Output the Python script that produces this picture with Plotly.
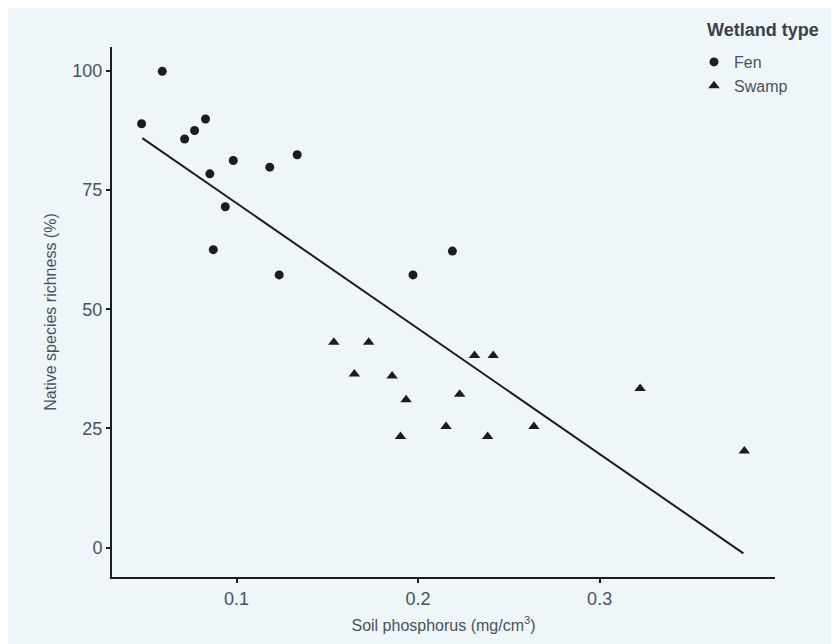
import plotly.graph_objects as go

# Fen sites
fen_x = [0.0477, 0.0591, 0.0714, 0.0769, 0.0829, 0.0853, 0.0982, 0.0938, 0.0872, 0.1183, 0.1334, 0.1235, 0.1972, 0.2189]
fen_y = [88.9, 99.9, 85.7, 87.5, 89.9, 78.4, 81.2, 71.5, 62.5, 79.8, 82.4, 57.2, 57.2, 62.2]

# Swamp sites
swamp_x = [0.1536, 0.1728, 0.1649, 0.1857, 0.1934, 0.1903, 0.2154, 0.2229, 0.2311, 0.2414, 0.2383, 0.2638, 0.3223, 0.3797]
swamp_y = [43.1, 43.1, 36.4, 36.0, 31.0, 23.3, 25.4, 32.2, 40.3, 40.3, 23.3, 25.4, 33.4, 20.3]

# Fitted trend line (endpoints)
fit_x = [0.0481, 0.3792]
fit_y = [85.9, -1.2]

x_ticks = [0.1, 0.2, 0.3]
x_labels = ["0.1", "0.2", "0.3"]
y_ticks = [0, 25, 50, 75, 100]

INK = "#1c1c1c"
TXT = "#4a525b"
TITLE = "#3a4048"
FONT = "Liberation Sans, Arial, sans-serif"

fig = go.Figure()
fig.add_trace(go.Scatter(x=fit_x, y=fit_y, mode="lines", line=dict(color=INK, width=2),
                         showlegend=False, hoverinfo="skip"))
fig.add_trace(go.Scatter(x=fen_x, y=fen_y, mode="markers", name="Fen",
                         marker=dict(symbol="circle", size=9, color=INK, line=dict(width=0))))
fig.add_trace(go.Scatter(x=swamp_x, y=swamp_y, mode="markers", name="Swamp",
                         marker=dict(symbol="triangle-up", size=10, color=INK, line=dict(width=0))))

W, H = 826, 640
L, T = 104, 39
PR, PB = 767, 569          # plot right / bottom in figure pixels
R, B = W - PR, H - PB
pw, ph = PR - L, PB - T

def px(x):
    return (x - L) / pw

def py(y):
    return (PB - y) / ph

fig.add_annotation(text="<b>Wetland type</b>", xref="paper", yref="paper",
                   x=px(697), y=py(22), xanchor="left", yanchor="middle",
                   showarrow=False, font=dict(size=18, color=TITLE))

fig.update_layout(
    width=W, height=H,
    margin=dict(l=L, r=R, t=T, b=B),
    paper_bgcolor="#EFF6FA",
    plot_bgcolor="rgba(0,0,0,0)",
    font=dict(family=FONT, color=TXT),
    legend=dict(
        font=dict(size=16, color=TXT),
        x=px(686), y=py(37), xanchor="left", yanchor="top",
        bgcolor="rgba(0,0,0,0)", itemwidth=30, tracegroupgap=0,
    ),
    xaxis=dict(
        range=[0.0314, 0.3966], tickvals=x_ticks, ticktext=x_labels,
        showgrid=False, zeroline=False, showline=True, linecolor=INK, linewidth=2,
        ticks="outside", ticklen=4, tickwidth=2, tickcolor=INK,
        tickfont=dict(size=18, color=TXT),
        title=dict(text="Soil phosphorus (mg/cm<sup>3</sup>)", font=dict(size=16, color=TXT), standoff=12),
    ),
    yaxis=dict(
        range=[-6.15, 105.0], tickvals=y_ticks,
        showgrid=False, zeroline=False, showline=True, linecolor=INK, linewidth=2,
        ticks="outside", ticklen=4, tickwidth=2, tickcolor=INK,
        tickfont=dict(size=18, color=TXT),
        title=dict(text="Native species richness (%)", font=dict(size=16, color=TXT), standoff=12),
    ),
)

fig.write_html("out.html")
